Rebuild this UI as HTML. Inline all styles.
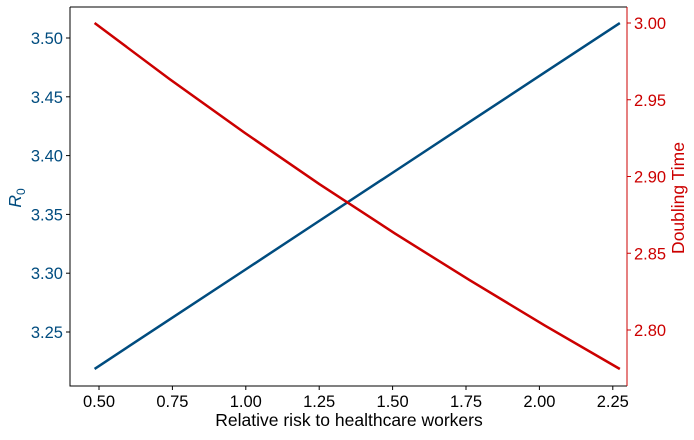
<!DOCTYPE html>
<html><head><meta charset="utf-8"><style>
html,body{margin:0;padding:0;background:#fff;}
svg text{font-family:"Liberation Sans","DejaVu Sans",sans-serif;}
</style></head><body>
<svg id="chart" width="694" height="435" xmlns="http://www.w3.org/2000/svg"></svg>
<script>
const xValues = [0.485, 0.74, 0.996, 1.251, 1.507, 1.762, 2.018, 2.274];
const r0Values = [3.2186, 3.2606, 3.3026, 3.3446, 3.3866, 3.4286, 3.4707, 3.5127];
const doublingValues = [3.000, 2.9635, 2.9285, 2.895, 2.863, 2.8325, 2.803, 2.7746];
const xTicks = [0.50, 0.75, 1.00, 1.25, 1.50, 1.75, 2.00, 2.25];
const leftTicks = [3.25, 3.30, 3.35, 3.40, 3.45, 3.50];
const rightTicks = [2.80, 2.85, 2.90, 2.95, 3.00];

const L=70, R=627, T=7, B=386;
const BLUE='#004c7f', RED='#cc0000';
const xs = v => 99 + (v-0.5)/0.25*73.4;
const yl = v => 38 + (3.5-v)/0.05*58.8;
const yr = v => 23 + (3.0-v)/0.05*76.75;
const svg=document.getElementById('chart');
const NS='http://www.w3.org/2000/svg';
function mk(tag,attrs,parent){const e=document.createElementNS(NS,tag);for(const k in attrs)e.setAttribute(k,attrs[k]);(parent||svg).appendChild(e);return e;}

const blue=mk('polyline',{points:xValues.map((x,i)=>xs(x)+','+yl(r0Values[i])).join(' '),fill:'none',stroke:BLUE,'stroke-width':2.5});


const red=mk('polyline',{points:xValues.map((x,i)=>xs(x)+','+yr(doublingValues[i])).join(' '),fill:'none',stroke:RED,'stroke-width':2.5,'stroke-linejoin':'round'});



const sp1=mk('path',{d:`M${L},${T}H${R}M${L},${T}V${B}H${R}`,fill:'none',stroke:'#000','stroke-width':1});


const sp2=mk('line',{x1:R,y1:T,x2:R,y2:B,stroke:RED,'stroke-width':1});



xTicks.forEach(v=>{const x=xs(v);
  mk('line',{x1:x,y1:B,x2:x,y2:B+4,stroke:'#000'});
  const t=mk('text',{x:x,y:B+21,'font-size':16.5,'text-anchor':'middle',fill:'#000'});t.textContent=v.toFixed(2);
  
  
});
leftTicks.forEach(v=>{const y=yl(v);
  mk('line',{x1:L-4,y1:y,x2:L,y2:y,stroke:'#000'});
  const t=mk('text',{x:L-7,y:y+6,'font-size':16.5,'text-anchor':'end',fill:BLUE});t.textContent=v.toFixed(2);
  
  
});
rightTicks.forEach(v=>{const y=yr(v);
  mk('line',{x1:R,y1:y,x2:R+4,y2:y,stroke:RED});
  const t=mk('text',{x:R+7,y:y+6,'font-size':16.5,'text-anchor':'start',fill:RED});t.textContent=v.toFixed(2);
  
  
});
</script>
<svg style="position:absolute;left:0;top:0" width="694" height="435" xmlns="http://www.w3.org/2000/svg">
<text x="349" y="426" font-size="17.5" text-anchor="middle" font-family="Liberation Sans, sans-serif">Relative risk to healthcare workers</text>
<text transform="translate(21,198) rotate(-90)" font-size="17.5" text-anchor="middle" fill="#004c7f" font-family="Liberation Sans, sans-serif"><tspan font-style="italic">R</tspan><tspan font-size="12" dy="4">0</tspan></text>
<text transform="translate(684,198) rotate(-90)" font-size="17.5" text-anchor="middle" fill="#cc0000" font-family="Liberation Sans, sans-serif">Doubling Time</text>
</svg>
</body></html>
